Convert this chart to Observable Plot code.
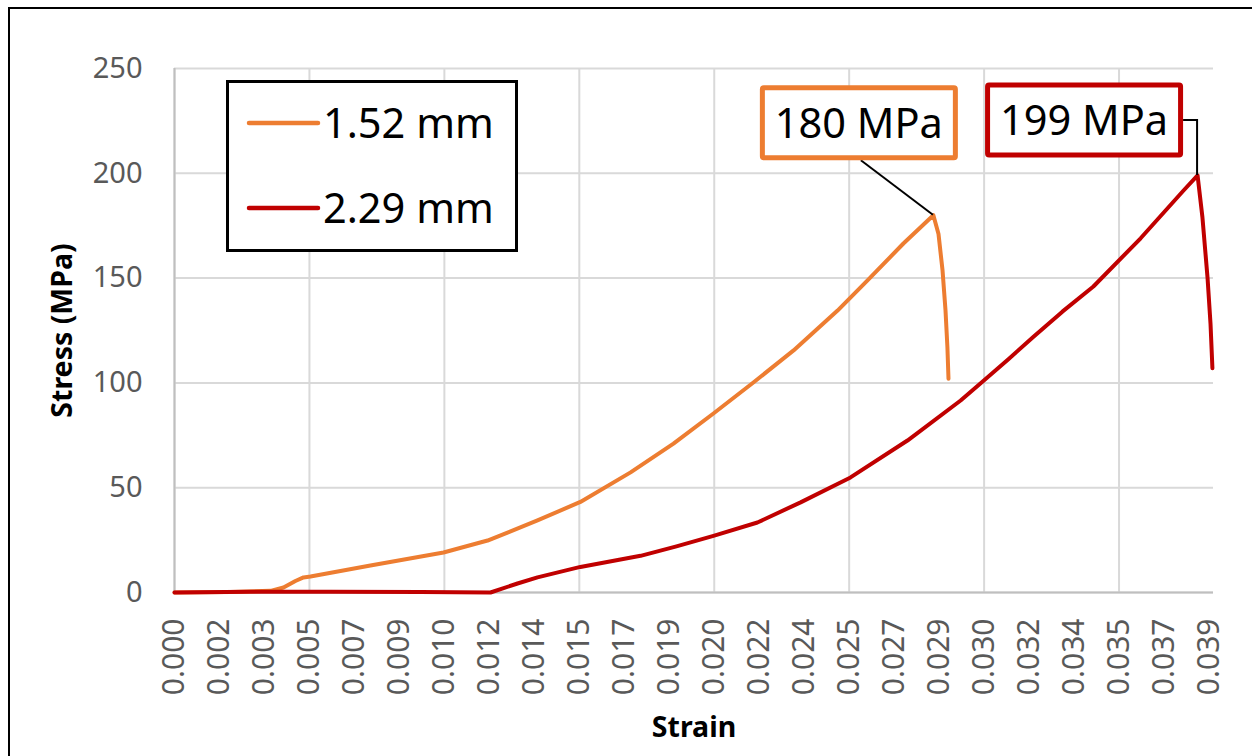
<!DOCTYPE html>
<html><head><meta charset="utf-8">
<script src="https://cdn.jsdelivr.net/npm/d3@7"></script>
<script src="https://cdn.jsdelivr.net/npm/@observablehq/plot@0.6"></script>
<style>
html,body{margin:0;padding:0;background:#fff;overflow:hidden;width:1252px;height:756px;}
#frame{position:absolute;left:8px;top:7px;width:1400px;height:900px;border:2px solid #000;box-sizing:border-box;}
#chart{position:absolute;left:0;top:0;}
</style></head><body>
<div id="frame"></div><div id="chart"></div>
<script>
const seriesNames = ["1.52 mm", "2.29 mm"];
const seriesColors = ["#ED7D31", "#C00000"];

const strain152 = [0, 0.00208, 0.00356, 0.00404, 0.00448, 0.00478, 0.00504, 0.00726, 0.00997, 0.01160, 0.01234, 0.01345, 0.01504, 0.01690, 0.01849, 0.01997, 0.02145, 0.02294, 0.02457, 0.02568, 0.02701, 0.02812, 0.02831, 0.02846, 0.02857, 0.02864, 0.02868];
const stress152 = [0, 0.2, 0.8, 2.4, 5.5, 7.2, 7.6, 12.9, 19.1, 24.8, 28.6, 34.4, 43.2, 57.3, 71, 85.4, 100.2, 115.5, 134.5, 148.9, 166.5, 180, 171, 153.6, 134.5, 117, 102];

const strain229 = [0, 0.00282, 0.00578, 0.00912, 0.01171, 0.01271, 0.01345, 0.01504, 0.01727, 0.01860, 0.01997, 0.02160, 0.02320, 0.02505, 0.02716, 0.02913, 0.02998, 0.03090, 0.03183, 0.03290, 0.03405, 0.03580, 0.03739, 0.03791, 0.03809, 0.03828, 0.03839, 0.03846];
const stress229 = [0, 0.3, 0.4, 0.2, 0, 4.3, 7.2, 12.2, 17.5, 22, 27, 33.4, 43, 54.9, 72.5, 91.6, 101, 111.3, 122, 134, 146, 169, 191.8, 199, 179, 150, 128, 107];

const xTickLabels = ["0.000","0.002","0.003","0.005","0.007","0.009","0.010","0.012","0.014","0.015","0.017","0.019","0.020","0.022","0.024","0.025","0.027","0.029","0.030","0.032","0.034","0.035","0.037","0.039"];
const yTicks = [0, 50, 100, 150, 200, 250];

const peakLabels = ["180 MPa", "199 MPa"];
const peakStrain = [0.02812, 0.03791];
const peakStress = [180, 199];

const xTickPos = xTickLabels.map((_, i) => i / 600);
const xGrid = xTickPos.filter((_, i) => i % 3 === 0);

const rowsA = strain152.map((s, i) => ({strain: s, stress: stress152[i]}));
const rowsB = strain229.map((s, i) => ({strain: s, stress: stress229[i]}));

const figure = Plot.plot({
  width: 1252, height: 756,
  marginLeft: 174, marginRight: 39, marginTop: 68, marginBottom: 164,
  style: {fontFamily: "'Noto Sans', sans-serif", background: "transparent", overflow: "visible"},
  x: {domain: [0, 0.0385], axis: null},
  y: {domain: [0, 250], axis: null},
  marks: [
    Plot.gridY(yTicks, {stroke: "#d9d9d9", strokeOpacity: 1, strokeWidth: 2}),
    Plot.gridX(xGrid, {stroke: "#d9d9d9", strokeOpacity: 1, strokeWidth: 2}),
    Plot.ruleX([0], {stroke: "#bfbfbf", strokeWidth: 2}),
    Plot.ruleY([0], {stroke: "#bfbfbf", strokeWidth: 2}),
    Plot.line(rowsA, {x: "strain", y: "stress", stroke: seriesColors[0], strokeWidth: 4, strokeLinejoin: "round"}),
    Plot.line(rowsB, {x: "strain", y: "stress", stroke: seriesColors[1], strokeWidth: 4, strokeLinejoin: "round"}),
    Plot.text(yTicks, {y: d => d, text: d => String(d), frameAnchor: "left", textAnchor: "end", lineAnchor: "middle", dx: -32, fontSize: 29, fill: "#595959"}),
    Plot.text(xTickPos, {x: d => d, text: (d, i) => xTickLabels[i], frameAnchor: "bottom", rotate: -90, textAnchor: "end", lineAnchor: "middle", dy: 26, fontSize: 30, fill: "#595959"}),
    Plot.text(["Stress (MPa)"], {frameAnchor: "left", dx: -112, rotate: -90, textAnchor: "middle", lineAnchor: "middle", fontWeight: "bold", fontSize: 28.5, fill: "#000"}),
    Plot.text(["Strain"], {frameAnchor: "bottom", dy: 135, textAnchor: "middle", lineAnchor: "middle", fontWeight: "bold", fontSize: 28.5, fill: "#000"})
  ]
});

document.getElementById("chart").append(figure);
const svg = d3.select(figure);
const sx = figure.scale("x"), sy = figure.scale("y");

// Legend
const lg = svg.append("g").attr("font-family", "'Noto Sans', sans-serif");
lg.append("rect").attr("x", 227.5).attr("y", 81.5).attr("width", 289).attr("height", 169)
  .attr("fill", "#fff").attr("stroke", "#000").attr("stroke-width", 3);
seriesNames.forEach((name, i) => {
  const yy = 123 + i * 85;
  lg.append("line").attr("x1", 249).attr("x2", 318).attr("y1", yy).attr("y2", yy)
    .attr("stroke", seriesColors[i]).attr("stroke-width", 4.5).attr("stroke-linecap", "round");
  lg.append("text").attr("x", 323).attr("y", yy).attr("dy", "0.35em").attr("text-anchor", "start")
    .attr("font-size", 41.5).attr("fill", "#000").text(name);
});

// Peak annotations
const offs = [[-74, -92], [-113, -55]];
const ag = svg.append("g").attr("font-family", "'Noto Sans', sans-serif");
peakLabels.forEach((lab, i) => {
  const px = sx.apply(peakStrain[i]), py = sy.apply(peakStress[i]);
  const cx = px + offs[i][0], cy = py + offs[i][1];
  const w = 198, h = 75;
  if (i === 0) {
    ag.append("line").attr("x1", cx + 2).attr("y1", cy + h / 2).attr("x2", px).attr("y2", py)
      .attr("stroke", "#000").attr("stroke-width", 2);
  } else {
    ag.append("polyline").attr("points", `${cx + w / 2},${cy} ${px},${cy} ${px},${py}`)
      .attr("fill", "none").attr("stroke", "#000").attr("stroke-width", 2);
  }
  ag.append("rect").attr("x", cx - w / 2 + 2.5).attr("y", cy - h / 2 + 2.5)
    .attr("width", w - 5).attr("height", h - 5).attr("rx", 1.5)
    .attr("fill", "#fff").attr("stroke", seriesColors[i]).attr("stroke-width", 5);
  ag.append("text").attr("x", cx).attr("y", cy + 1).attr("dy", "0.35em").attr("text-anchor", "middle")
    .attr("font-size", 41.5).attr("fill", "#000").text(lab);
});
</script>
</body></html>
